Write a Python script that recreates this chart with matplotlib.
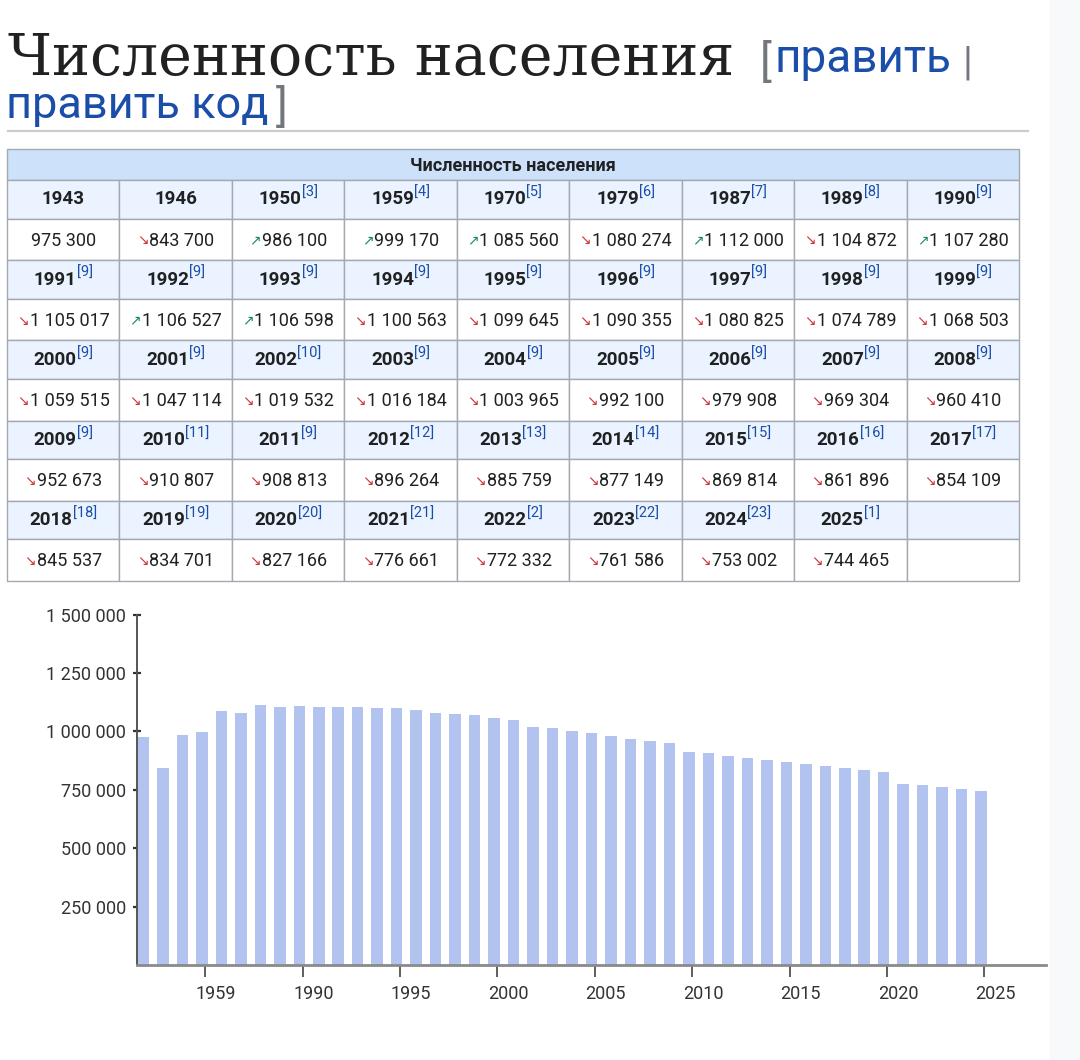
import matplotlib
matplotlib.use("Agg")
import matplotlib.pyplot as plt
from matplotlib.patches import Rectangle
from matplotlib.transforms import ScaledTranslation

# ---- data ----
years = [1943, 1946, 1950, 1959, 1970, 1979, 1987, 1989, 1990,
         1991, 1992, 1993, 1994, 1995, 1996, 1997, 1998, 1999,
         2000, 2001, 2002, 2003, 2004, 2005, 2006, 2007, 2008,
         2009, 2010, 2011, 2012, 2013, 2014, 2015, 2016, 2017,
         2018, 2019, 2020, 2021, 2022, 2023, 2024, 2025]
refs = [None, None, 3, 4, 5, 6, 7, 8, 9,
        9, 9, 9, 9, 9, 9, 9, 9, 9,
        9, 9, 10, 9, 9, 9, 9, 9, 9,
        9, 11, 9, 12, 13, 14, 15, 16, 17,
        18, 19, 20, 21, 2, 22, 23, 1]
population = [975300, 843700, 986100, 999170, 1085560, 1080274, 1112000, 1104872, 1107280,
              1105017, 1106527, 1106598, 1100563, 1099645, 1090355, 1080825, 1074789, 1068503,
              1059515, 1047114, 1019532, 1016184, 1003965, 992100, 979908, 969304, 960410,
              952673, 910807, 908813, 896264, 885759, 877149, 869814, 861896, 854109,
              845537, 834701, 827166, 776661, 772332, 761586, 753002, 744465]
xtick_idx = [3, 8, 13, 18, 23, 28, 33, 38, 43]
yticks = [250000, 500000, 750000, 1000000, 1250000, 1500000]

TXT, LINK, GREY = "#202122", "#1a4ea8", "#72777d"
UP, DOWN = "#14866d", "#d33333"
BAR = "#b1c3ee"
W, H = 1080, 1060

plt.rcParams["font.family"] = ["Roboto", "DejaVu Sans"]


def fmt(v):
    return f"{v:,}".replace(",", " ")


fig = plt.figure(figsize=(W / 100, H / 100), dpi=100)
page = fig.add_axes([0, 0, 1, 1])
page.set_xlim(0, W)
page.set_ylim(H, 0)
page.axis("off")
rend = fig.canvas.get_renderer()


def wpx(t):
    return t.get_window_extent(rend).width


# right side grey strip
page.add_patch(Rectangle((1050, 0), 30, H, color="#f8f9fa", zorder=0))

# ---- heading ----
page.text(8, 75, "Численность населения", family="DejaVu Serif", fontsize=41,
          color=TXT, va="baseline")
page.text(760, 76, "[", fontsize=32, color=GREY, va="baseline")
page.text(774, 72, "править", fontsize=33, color=LINK, va="baseline")
page.text(962, 74, "|", fontsize=29, color=GREY, va="baseline")
page.text(6, 118, "править код", fontsize=32.5, color=LINK, va="baseline")
page.text(276, 121, "]", fontsize=32, color=GREY, va="baseline")
page.plot([8, 1028], [131, 131], color="#c8ccd1", lw=1.6)

# ---- table ----
x0, x1 = 7, 1019
ncols = 9
cw = (x1 - x0) / ncols
top, title_h, head_h, data_h = 149, 31, 38.5, 41.7
BORDER = "#a2a9b1"

page.add_patch(Rectangle((x0, top), x1 - x0, title_h, fc="#cde1fa", ec=BORDER, lw=1))
page.text((x0 + x1) / 2, top + 22, "Численность населения", fontsize=13, weight="bold",
          color=TXT, ha="center", va="baseline")

nrows = (len(years) + ncols - 1) // ncols
for r in range(nrows):
    hy = top + title_h + r * (head_h + data_h)
    dy = hy + head_h
    for c in range(ncols):
        cx = x0 + c * cw
        page.add_patch(Rectangle((cx, hy), cw, head_h, fc="#eaf3ff", ec=BORDER, lw=1))
        page.add_patch(Rectangle((cx, dy), cw, data_h, fc="white", ec=BORDER, lw=1))

for k, (yr, ref, val) in enumerate(zip(years, refs, population)):
    r, c = divmod(k, ncols)
    hy = top + title_h + r * (head_h + data_h)
    dy = hy + head_h
    mid = x0 + c * cw + cw / 2

    # header cell: bold year + blue superscript reference
    ty = page.text(0, hy + 24.5, str(yr), fontsize=13.5, weight="bold", color=TXT,
                   va="baseline")
    parts = [ty]
    if ref is not None:
        tr = page.text(0, hy + 17, f"[{ref}]", fontsize=10.5, color=LINK, va="baseline")
        parts.append(tr)
    total = sum(wpx(p) for p in parts)
    xs = mid - total / 2
    for p in parts:
        p.set_x(xs)
        xs += wpx(p)

    # data cell: trend arrow + number
    tn = page.text(0, dy + 27, fmt(val), fontsize=13, color=TXT, va="baseline")
    parts = []
    if k > 0:
        up = val > population[k - 1]
        ta = page.text(0, dy + 26, "↗" if up else "↘", family="DejaVu Sans",
                       fontsize=10, color=UP if up else DOWN, va="baseline")
        parts.append(ta)
    parts.append(tn)
    gap = 1
    total = sum(wpx(p) for p in parts) + gap * (len(parts) - 1)
    xs = mid - total / 2
    for p in parts:
        p.set_x(xs)
        xs += wpx(p) + gap

# ---- bar chart ----
ax_l, ax_r, ax_b, ax_t = 137, 1046, 965, 614.7
ax = fig.add_axes([ax_l / W, (H - ax_b) / H, (ax_r - ax_l) / W, (ax_b - ax_t) / H])
ax.set_facecolor("none")
xpos = list(range(len(population)))
ax.bar(xpos, population, width=0.59, color=BAR, zorder=2)
ax.set_xlim(-0.33, 46.33)
ax.set_ylim(0, 1500000)

ax.spines[["top", "right"]].set_visible(False)
ax.spines["left"].set_color("#555555")
ax.spines["left"].set_linewidth(1.4)
ax.spines["bottom"].set_color("#8a8a8a")
ax.spines["bottom"].set_linewidth(2)
ax.spines["bottom"].set_zorder(3)

ax.set_yticks(yticks)
ax.set_yticklabels([fmt(v) for v in yticks])
ax.tick_params(axis="y", direction="inout", length=6, width=1.6, color="#333333",
               labelsize=13, labelcolor="#333333", pad=5)

ax.set_xticks([i + 0.17 for i in xtick_idx])
ax.set_xticklabels([str(years[i]) for i in xtick_idx])
ax.tick_params(axis="x", direction="out", length=8.5, width=1.1, color="#333333",
               labelsize=13, labelcolor="#333333", pad=6)
shift = ScaledTranslation(11 / 100, 0, fig.dpi_scale_trans)
for lab in ax.get_xticklabels():
    lab.set_transform(lab.get_transform() + shift)

fig.savefig("out.png", dpi=100)
